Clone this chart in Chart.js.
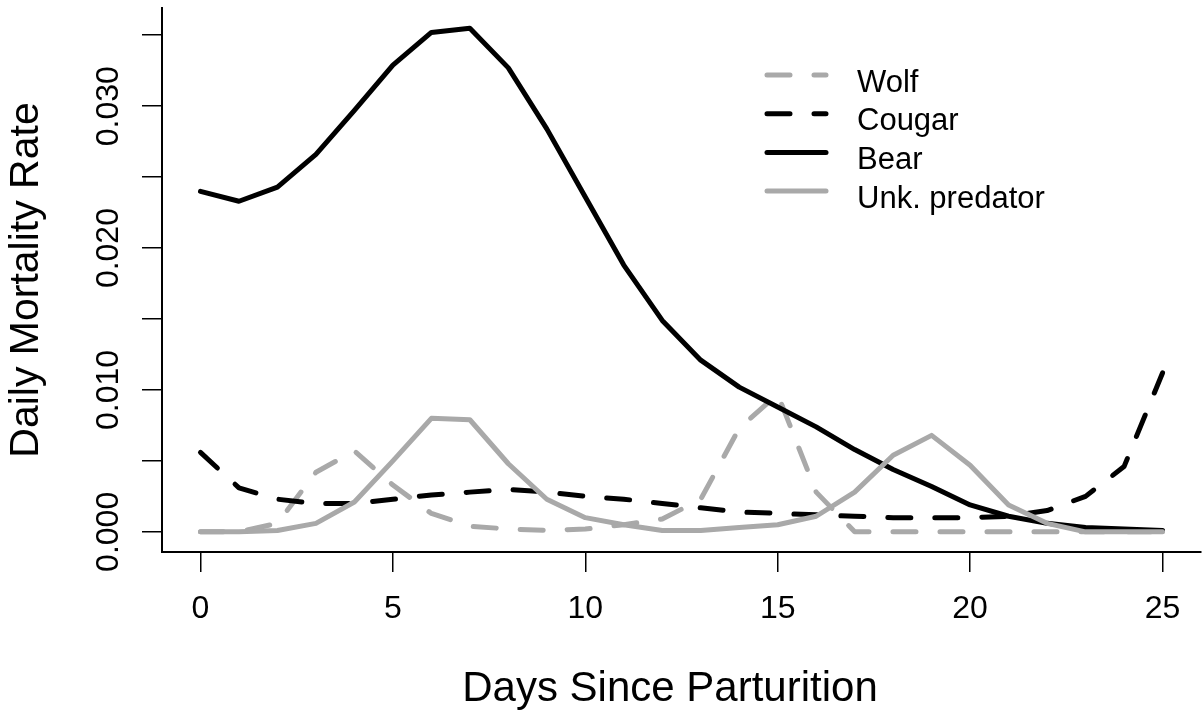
<!DOCTYPE html>
<html lang="en">
<head>
  <meta charset="UTF-8">
  <title>Daily Mortality Rate</title>
  <script src="https://cdn.jsdelivr.net/npm/chart.js"></script>
  <style>
    body { margin: 0; background: #fff; }
  </style>
</head>
<body>
  <canvas id="chart" width="1204" height="712"></canvas>

  <script>
    /* Values, one per day. */
    const days = [0, 1, 2, 3, 4, 5, 6, 7, 8, 9, 10, 11, 12, 13, 14, 15, 16, 17, 18, 19, 20, 21, 22, 23, 24, 25]
    const wolf = [0, 0, 0.0006, 0.0042, 0.0057, 0.0033, 0.0013, 0.0004, 0.0002, 0.0001, 0.0002, 0.0005, 0.0009,
      0.0023, 0.0073, 0.0097, 0.0028, 0, 0, 0, 0, 0, 0, 0, 0, 0]
    const cougar = [0.0056, 0.0031, 0.0023, 0.0020, 0.0020, 0.0023, 0.0026, 0.0028, 0.0030, 0.0028, 0.0025, 0.0023,
      0.0020, 0.0017, 0.0014, 0.0013, 0.0012, 0.0011, 0.0010, 0.0010, 0.0010, 0.0011, 0.0015, 0.0025, 0.0046, 0.0112]
    const bear = [0.0240, 0.0233, 0.0243, 0.0266, 0.0297, 0.0329, 0.0352, 0.0355, 0.0327, 0.0284, 0.0236, 0.0188,
      0.0149, 0.0121, 0.0102, 0.0088, 0.0074, 0.0058, 0.0044, 0.0032, 0.0019, 0.0011, 0.0006, 0.0003, 0.0002, 0.0001]
    const unkPredator = [0, 0, 0.0001, 0.0006, 0.0021, 0.0050, 0.0080, 0.0079, 0.0048, 0.0023, 0.0010, 0.0005,
      0.0001, 0.0001, 0.0003, 0.0005, 0.0011, 0.0028, 0.0054, 0.0068, 0.0047, 0.0019, 0.0006, 0, 0, 0]

    const xTicks = [0, 5, 10, 15, 20, 25]
    const yTicks = [0, 0.005, 0.010, 0.015, 0.020, 0.025, 0.030, 0.035]
    const yLabels = [0, 0.010, 0.020, 0.030]
    const xTitle = 'Days Since Parturition'

    const FONT = '"Liberation Sans", Arial, sans-serif'
    const GREY = '#a9a9a9'

    const points = arr => days.map((d, i) => ({ x: d, y: arr[i] }))

    /* R style extras: rotated y tick labels, x title and the legend inside the plot. */
    const rExtras = {
      id: 'rExtras',
      afterDraw(chart) {
        const ctx = chart.ctx
        const yScale = chart.scales.y

        ctx.save()
        ctx.fillStyle = '#000'
        ctx.font = '32px ' + FONT
        ctx.textAlign = 'center'
        ctx.textBaseline = 'alphabetic'
        yLabels.forEach(v => {
          ctx.save()
          ctx.translate(118, yScale.getPixelForValue(v))
          ctx.rotate(-Math.PI / 2)
          ctx.fillText(v.toFixed(3), 0, 0)
          ctx.restore()
        })

        ctx.font = '42px ' + FONT
        ctx.textBaseline = 'middle'
        ctx.fillText(xTitle, 670, 689)

        // legend
        ctx.textBaseline = 'alphabetic'
        chart.data.datasets.forEach((ds, i) => {
          const ly = 75 + i * 38.7
          ctx.beginPath()
          ctx.strokeStyle = ds.borderColor
          ctx.lineWidth = ds.borderWidth
          ctx.lineCap = 'round'
          ctx.setLineDash(ds.borderDash || [])
          ctx.moveTo(767, ly)
          ctx.lineTo(826, ly)
          ctx.stroke()
          ctx.setLineDash([])
          ctx.font = '31px ' + FONT
          ctx.textAlign = 'left'
          ctx.fillStyle = '#000'
          ctx.fillText(ds.label, 857, ly + 16.5)
        })
        ctx.restore()
      }
    }

    const lineStyle = (label, data, color, dashed, order) => ({
      label: label,
      data: points(data),
      borderColor: color,
      borderWidth: 5,
      borderDash: dashed ? [23, 24] : [],
      borderCapStyle: 'round',
      borderJoinStyle: 'round',
      pointRadius: 0,
      tension: 0,
      fill: false,
      order: order,
    })

    const axisGrid = { drawOnChartArea: false, drawTicks: true, tickLength: 20, color: '#000', lineWidth: 1.5 }
    const axisBorder = { display: true, color: '#000', width: 2 }

    const ctx = document.getElementById('chart').getContext('2d')
    const myChart = new Chart(ctx, {
      type: 'line',
      data: {
        datasets: [
          lineStyle('Wolf', wolf, GREY, true, 4),
          lineStyle('Cougar', cougar, '#000', true, 3),
          lineStyle('Bear', bear, '#000', false, 2),
          lineStyle('Unk. predator', unkPredator, GREY, false, 1),
        ]
      },
      options: {
        responsive: false,
        animation: false,
        layout: { padding: { top: 8, right: 3, left: 0, bottom: 0 } },
        plugins: {
          legend: { display: false },
          tooltip: { enabled: false },
        },
        scales: {
          x: {
            type: 'linear',
            min: -1,
            max: 26,
            afterBuildTicks: s => { s.ticks = xTicks.map(v => ({ value: v })) },
            afterFit: s => { s.height = 160 },
            grid: axisGrid,
            border: axisBorder,
            ticks: {
              font: { family: FONT, size: 32, lineHeight: 1 },
              color: '#000',
              padding: 21,
              maxRotation: 0,
              autoSkip: false,
            },
            title: { display: false },
          },
          y: {
            type: 'linear',
            min: -0.00142,
            max: 0.03692,
            afterBuildTicks: s => { s.ticks = yTicks.map(v => ({ value: v })) },
            afterFit: s => { s.width = 162 },
            grid: axisGrid,
            border: axisBorder,
            ticks: { display: false },
            title: {
              display: true,
              text: 'Daily Mortality Rate',
              font: { family: FONT, size: 41, lineHeight: 1 },
              color: '#000',
              padding: { top: 6, bottom: 0 },
            },
          },
        },
      },
      plugins: [rExtras],
    })
  </script>
</body>
</html>
